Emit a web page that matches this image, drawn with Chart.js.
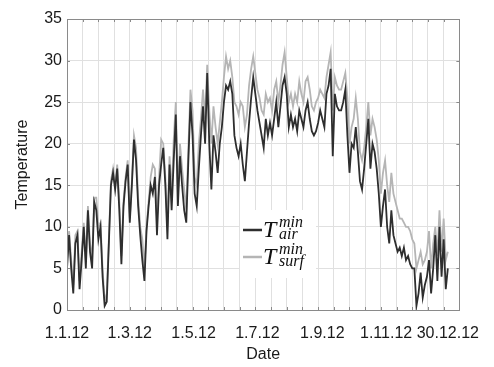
<!DOCTYPE html>
<html>
<head>
<meta charset="utf-8">
<script src="https://cdn.jsdelivr.net/npm/chart.js@4.4.0/dist/chart.umd.min.js"></script>
<style>
  html, body { margin: 0; padding: 0; background: #fff; }
</style>
</head>
<body>
<canvas id="chart" width="494" height="367"></canvas>
<script>
// daily minimum temperatures 2012, read every 2nd day (day 0 = 1.1.12)
const DAY_STEP = 2;

const airMin = [
  5, 9, 5, 2, 8, 9, 2.5, 6, 10, 5,
  12, 7, 5, 13, 12, 8.5, 10, 4, 0.5, 1,
  8, 15, 16.5, 14.5, 17, 12, 5.5, 12.5, 15.5, 17.5,
  10.5, 15, 20.5, 18, 12.5, 9, 6, 3.5, 9.5, 12.5,
  15, 14, 16, 9, 15, 17.5, 19.5, 15, 8.5, 17.5,
  12, 18, 23.5, 12.5, 18.5, 15, 12, 10.5, 18, 25,
  21, 14, 12.5, 17, 21, 24.5, 20, 28.5, 20, 14.5,
  21, 19, 16.5, 20, 22, 25, 27, 26.5, 27.5, 26,
  21, 19.5, 18.5, 20, 17.5, 15.5, 19, 22.5, 25.5, 28,
  26, 24, 22.5, 21, 19.5, 23, 21, 22.5, 21, 23,
  25, 22, 24.5, 27, 28, 26, 22, 23.5, 22, 23,
  21.5, 24, 23, 22, 24, 25, 23, 21.5, 21, 21.5,
  22.5, 24, 23, 22, 26, 27, 29, 18.5, 26, 24.5,
  24, 24, 25, 26.5, 21, 16.5, 20, 19.5, 22, 19,
  15.5, 14.5, 17, 20, 23, 17, 20, 19, 17, 14,
  10, 12.5, 14.5, 10, 8, 12, 9, 8, 7, 7.5,
  6.5, 7.5, 6, 6.5, 5.5, 5, 5, 0.5, 2, 4.5,
  1.5, 3, 4, 6, 2, 5, 9, 3.5, 10, 4,
  8.5, 2.5, 5
];

const surfMin = [
  6, 9.5, 6, 3, 9, 9.5, 3.5, 7, 10.5, 6,
  12.5, 8, 6, 13.5, 13.5, 10, 10.5, 5, 1, 2,
  8.5, 15.5, 17, 15, 17.5, 13, 6.5, 13, 16, 18,
  11, 15.5, 21, 19.5, 13.5, 10, 8.5, 5, 10, 13,
  16, 17.5, 17, 11, 16, 20.5, 20, 16, 10, 18.5,
  14, 20.5, 25, 14, 20, 17, 14.5, 12, 19.5, 26.5,
  24, 16, 15, 20, 23, 26.5, 23, 29.5, 24, 20,
  24.5, 22, 20, 22.5, 25, 28, 30.5, 29, 30, 28,
  25, 24.5, 23.5, 25, 24.5, 22, 23.5, 27, 29, 30.5,
  28.5, 26.5, 25.5, 24, 23.5, 26, 25, 25.5, 24, 26.5,
  27.5, 25, 27, 29.5, 31, 28, 25, 26, 24.5, 26,
  25, 27.5, 26, 25, 27.5, 28, 26.5, 24.5, 24, 25,
  25.5, 26.5, 26, 25.5, 28, 29.5, 31, 24, 28, 27,
  26.5, 26.5, 27.5, 28.5, 25.5, 20, 22, 23, 25.5, 23,
  19, 18, 19.5, 22, 25, 21, 23, 22, 20.5, 18,
  14, 16.5, 18, 15, 13, 16.5, 14, 13, 12, 11,
  11, 10.5, 10, 10, 9.5, 8.5, 8, 5, 6, 7,
  5.5, 6, 7, 9.5, 5, 8, 10, 6.5, 12, 7,
  11, 6, 7
];

// x tick labels and the day of the year they sit on
const tickLabels = ['1.1.12', '1.3.12', '1.5.12', '1.7.12', '1.9.12', '1.11.12', '30.12.12'];
const tickDays = [0, 60, 121, 182, 244, 305, 364];

const legendSup = 'min';
const legendSubs = ['air', 'surf'];

const FONT = '"Liberation Sans", Arial, sans-serif';
const toPoints = arr => arr.map((v, i) => ({ x: i * DAY_STEP, y: v }));

// box round the plot plus small inward tick marks
const frame = {
  id: 'frame',
  afterDatasetsDraw(chart) {
    const { ctx, chartArea: a, scales } = chart;
    ctx.save();
    ctx.strokeStyle = '#8a8a8a';
    ctx.lineWidth = 1;
    ctx.strokeRect(Math.round(a.left) + 0.5, Math.round(a.top) + 0.5,
      Math.round(a.right - a.left), Math.round(a.bottom - a.top));
    ctx.beginPath();
    scales.x.ticks.forEach(t => {
      const px = Math.round(scales.x.getPixelForValue(t.value)) + 0.5;
      ctx.moveTo(px, a.top); ctx.lineTo(px, a.top + 3);
      ctx.moveTo(px, a.bottom); ctx.lineTo(px, a.bottom - 3);
    });
    scales.y.ticks.forEach(t => {
      const py = Math.round(scales.y.getPixelForValue(t.value)) + 0.5;
      ctx.moveTo(a.left, py); ctx.lineTo(a.left + 3, py);
      ctx.moveTo(a.right, py); ctx.lineTo(a.right - 3, py);
    });
    ctx.stroke();
    ctx.restore();
  }
};

// legend with T_sub^sup math labels
const mathLegend = {
  id: 'mathLegend',
  afterDatasetsDraw(chart) {
    const ctx = chart.ctx;
    ctx.save();
    ctx.fillStyle = '#fff';
    ctx.fillRect(240, 210, 76, 68);
    legendSubs.forEach((sub, i) => {
      const ds = chart.data.datasets[i];
      const y0 = 230 + i * 27;
      ctx.strokeStyle = ds.borderColor;
      ctx.lineWidth = 2.5;
      ctx.beginPath();
      ctx.moveTo(243, y0);
      ctx.lineTo(262, y0);
      ctx.stroke();
      ctx.fillStyle = '#111';
      ctx.textBaseline = 'alphabetic';
      ctx.font = 'italic 24px "Liberation Serif", serif';
      ctx.fillText('T', 263, y0 + 7);
      ctx.font = 'italic 16px "Liberation Serif", serif';
      ctx.fillText(legendSup, 279, y0 - 3);
      ctx.fillText(sub, 279, y0 + 9);
    });
    ctx.restore();
  }
};

new Chart(document.getElementById('chart'), {
  type: 'line',
  data: {
    datasets: [
      { label: 'T air min', data: toPoints(airMin), borderColor: '#2e2e2e',
        borderWidth: 1.8, pointRadius: 0, tension: 0 },
      { label: 'T surf min', data: toPoints(surfMin), borderColor: '#b5b5b5',
        borderWidth: 1.8, pointRadius: 0, tension: 0 }
    ]
  },
  options: {
    responsive: false,
    animation: false,
    layout: { padding: { top: 19, right: 33, left: 0, bottom: 0 } },
    plugins: { legend: { display: false }, tooltip: { enabled: false } },
    scales: {
      x: {
        type: 'linear', position: 'bottom', weight: 0, min: 0, max: 375,
        ticks: { display: false, stepSize: 15 },
        grid: { color: '#e0e0e0', drawTicks: false },
        border: { color: '#8a8a8a' },
        afterFit: s => { s.height = 0; }
      },
      xLab: {
        type: 'linear', position: 'bottom', weight: 1, min: 0, max: 375,
        grid: { display: false, drawTicks: false },
        border: { display: false },
        afterBuildTicks: s => { s.ticks = tickDays.map(v => ({ value: v })); },
        ticks: {
          autoSkip: false, maxRotation: 0, padding: 14, color: '#1a1a1a',
          font: { family: FONT, size: 16 },
          callback: (v, i) => tickLabels[i]
        },
        title: {
          display: true, text: 'Date', color: '#1a1a1a',
          font: { family: FONT, size: 16 }, padding: { top: 0, bottom: 3 }
        },
        afterFit: s => { s.height = 57; }
      },
      y: {
        min: 0, max: 35,
        ticks: { stepSize: 5, padding: 5, color: '#1a1a1a', font: { family: FONT, size: 16 } },
        grid: { color: '#e0e0e0', drawTicks: false },
        border: { color: '#8a8a8a' },
        title: {
          display: true, text: 'Temperature', color: '#1a1a1a',
          font: { family: FONT, size: 16 }, padding: { top: 13, bottom: 0 }
        },
        afterFit: s => { s.width = 67; }
      }
    }
  },
  plugins: [frame, mathLegend]
});
</script>
</body>
</html>
